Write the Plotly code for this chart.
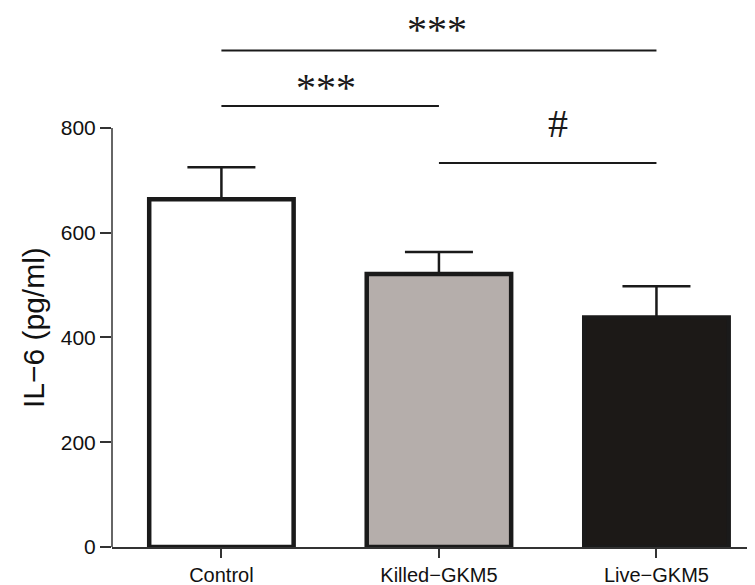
import plotly.graph_objects as go

categories = ["Control", "Killed\u2212GKM5", "Live\u2212GKM5"]
means = [664, 521, 438]
sds = [61, 42, 60]
fills = ["#ffffff", "#b5aeab", "#1c1917"]
tick_vals = [0, 200, 400, 600, 800]

# significance brackets
sig_from = [0, 0, 1]
sig_to = [2, 1, 2]
sig_y = [948, 842, 733]
sig_text = ["***", "***", "#"]
sig_text_y = [988, 877, 808]

# label horizontal nudges in pixels (layout only)
label_xshift = [-2, -4, 10]

dark = "#1a1a1a"
x = list(range(len(categories)))

fig = go.Figure()
fig.add_trace(go.Bar(
    x=x, y=means, width=0.664,
    marker=dict(color=fills, line=dict(color=dark, width=4.5)),
    error_y=dict(type="data", symmetric=False, array=sds, arrayminus=[0]*3,
                 color=dark, thickness=2.5, width=34),
    showlegend=False,
))

# y-axis line drawn only from 0 to 800
fig.add_shape(type="line", xref="paper", yref="y", x0=0, x1=0, y0=0, y1=800,
              line=dict(color="#333333", width=1.5))

for f, t, yy, txt, ty, xs in zip(sig_from, sig_to, sig_y, sig_text, sig_text_y, label_xshift):
    fig.add_shape(type="line", xref="x", yref="y", x0=x[f], x1=x[t], y0=yy, y1=yy,
                  line=dict(color=dark, width=2))
    fig.add_annotation(x=(x[f] + x[t]) / 2, y=ty, xref="x", yref="y", text=txt,
                       showarrow=False, yanchor="middle", xshift=xs,
                       font=dict(family="Liberation Serif", size=40, color=dark))

fig.add_annotation(xref="paper", yref="y", x=0, xshift=-79, y=418, text="IL\u22126 (pg/ml)",
                   textangle=-90, showarrow=False, xanchor="center", yanchor="middle",
                   font=dict(family="Liberation Sans", size=30, color="#111111"))

fig.update_layout(
    width=755, height=585,
    margin=dict(l=104, r=8, t=0, b=46),
    plot_bgcolor="white", paper_bgcolor="white",
    bargap=0.3,
    xaxis=dict(range=[-0.503, 2.453], tickvals=x, ticktext=categories,
               showline=True, linecolor="#333333", linewidth=1.5,
               ticks="outside", ticklen=9, tickcolor="#333333", tickwidth=1.5,
               showgrid=False, zeroline=False,
               tickfont=dict(family="Liberation Sans", size=20, color="#111111")),
    yaxis=dict(range=[0, 1029], tickvals=tick_vals, ticktext=[str(v) for v in tick_vals],
               showline=False, ticks="outside", ticklen=11, tickcolor="#333333", tickwidth=1.5,
               showgrid=False, zeroline=False,
               tickfont=dict(family="Liberation Sans", size=21, color="#111111")),
)

fig.write_html("out.html")
